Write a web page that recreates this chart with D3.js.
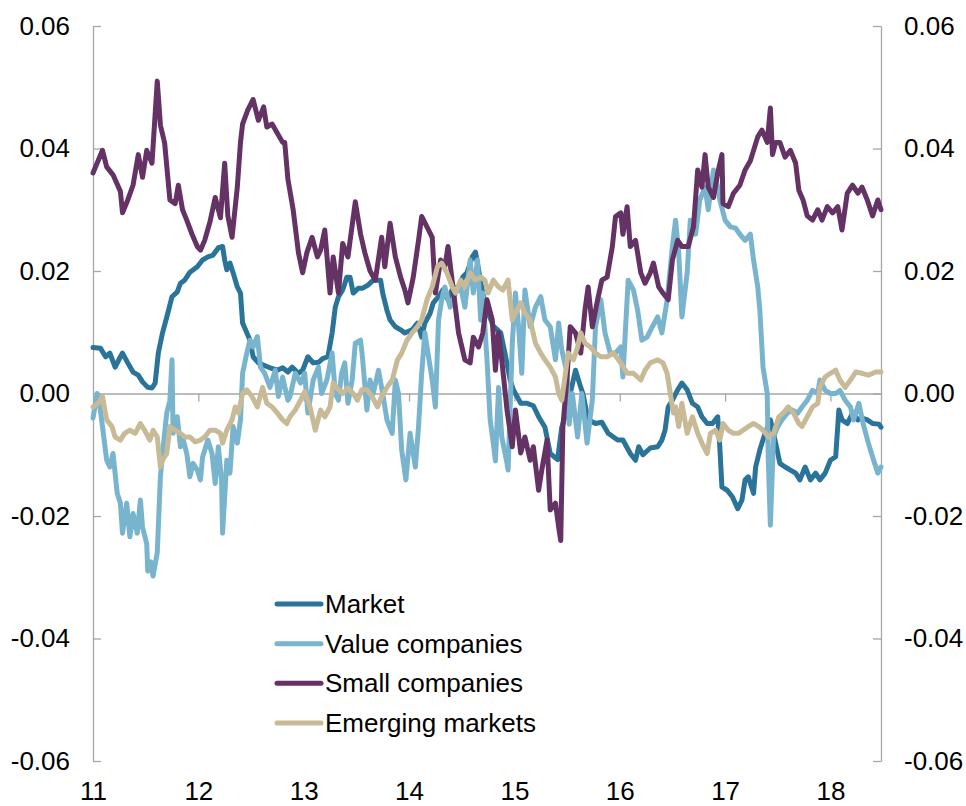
<!DOCTYPE html>
<html>
<head>
<meta charset="utf-8">
<script src="https://cdn.jsdelivr.net/npm/d3@7"></script>
<style>
  body { margin: 0; background: #fff; }
  text { font-family: "Liberation Sans", Arial, sans-serif; }
</style>
</head>
<body>
<svg id="chart" width="966" height="806"></svg>
<script>
// [year, value] readings, year as decimal (11 = 2011)
let market = [[11.00,.0075],[11.07,.0074],[11.12,.006],[11.16,.0066],[11.21,.0043],[11.26,.006],[11.28,.0066],[11.33,.005],[11.38,.0035],[11.43,.003],[11.47,.0019],[11.52,.001],[11.56,.0009],[11.59,.0017],[11.62,.0066],[11.66,.0099],[11.71,.0131],[11.75,.0158],[11.80,.0166],[11.83,.018],[11.87,.0185],[11.92,.0198],[11.99,.0207],[12.04,.0218],[12.09,.0223],[12.14,.0226],[12.19,.0238],[12.23,.024],[12.25,.0218],[12.27,.0202],[12.30,.0213],[12.33,.0197],[12.37,.0174],[12.40,.0164],[12.42,.0115],[12.46,.0099],[12.49,.0087],[12.52,.006],[12.57,.005],[12.61,.0047],[12.68,.0042],[12.75,.0038],[12.80,.0042],[12.85,.0035],[12.89,.0043],[12.95,.0033],[12.99,.0038],[13.04,.006],[13.09,.005],[13.14,.0051],[13.18,.0057],[13.23,.006],[13.27,.0099],[13.30,.0141],[13.33,.0158],[13.37,.0169],[13.41,.019],[13.44,.019],[13.47,.0164],[13.52,.0172],[13.56,.0172],[13.61,.0177],[13.66,.0185],[13.73,.0185],[13.75,.0164],[13.79,.0136],[13.82,.012],[13.87,.0109],[13.92,.0104],[13.96,.0099],[14.03,.0104],[14.08,.0115],[14.12,.0092],[14.15,.0115],[14.20,.0131],[14.23,.0148],[14.28,.0158],[14.32,.0169],[14.37,.0153],[14.42,.0174],[14.47,.0169],[14.51,.019],[14.55,.0197],[14.60,.0223],[14.63,.0231],[14.66,.0202],[14.70,.0164],[14.74,.0136],[14.80,.011],[14.87,.0099],[14.91,.0066],[14.96,.0022],[14.99,.0006],[15.06,-.0016],[15.12,-.0016],[15.18,-.002],[15.23,-.0038],[15.29,-.0055],[15.34,-.0098],[15.41,-.0108],[15.45,-.0055],[15.50,-.0027],[15.53,0],[15.58,.0038],[15.63,.001],[15.65,0],[15.70,-.0043],[15.77,-.0049],[15.83,-.0047],[15.89,-.0065],[15.98,-.0076],[16.03,-.0076],[16.10,-.0098],[16.15,-.0109],[16.18,-.0087],[16.22,-.01],[16.29,-.0089],[16.36,-.0087],[16.40,-.0076],[16.43,-.006],[16.46,-.0022],[16.50,-.0011],[16.55,.0006],[16.59,.0017],[16.64,.0006],[16.69,-.0016],[16.74,-.0022],[16.78,-.0038],[16.83,-.0049],[16.88,-.0049],[16.93,-.0038],[16.95,-.0087],[16.97,-.0153],[17.02,-.0158],[17.07,-.0169],[17.12,-.0188],[17.16,-.0174],[17.19,-.0141],[17.22,-.0136],[17.27,-.0163],[17.29,-.012],[17.33,-.0092],[17.38,-.0065],[17.43,-.0043],[17.48,-.0081],[17.52,-.0114],[17.57,-.012],[17.62,-.0125],[17.67,-.013],[17.71,-.0141],[17.76,-.012],[17.81,-.0141],[17.86,-.013],[17.90,-.0141],[17.95,-.013],[18.00,-.0109],[18.05,-.0103],[18.08,-.0027],[18.11,-.0043],[18.16,-.0049],[18.21,-.0032],[18.26,-.0043],[18.30,-.004],[18.35,-.0043],[18.40,-.0049],[18.46,-.005],[18.48,-.0055]];

let valueCos = [[11.00,-.004],[11.04,0],[11.07,-.0027],[11.09,-.0054],[11.13,-.0109],[11.16,-.012],[11.19,-.0098],[11.23,-.0163],[11.26,-.0179],[11.28,-.0228],[11.32,-.0179],[11.35,-.0234],[11.38,-.0196],[11.42,-.0228],[11.45,-.0174],[11.47,-.0218],[11.51,-.0245],[11.52,-.029],[11.55,-.0275],[11.57,-.0298],[11.61,-.026],[11.64,-.0136],[11.66,-.0098],[11.70,-.0032],[11.73,-.0011],[11.75,.0055],[11.76,-.0065],[11.80,-.0038],[11.83,-.0087],[11.85,-.0071],[11.89,-.0098],[11.92,-.0136],[11.95,-.0114],[11.99,-.0125],[12.02,-.0141],[12.04,-.0104],[12.09,-.0076],[12.13,-.0098],[12.16,-.0147],[12.19,-.0087],[12.22,-.0141],[12.23,-.0228],[12.27,-.0109],[12.30,-.013],[12.33,-.0054],[12.37,-.0081],[12.40,-.0043],[12.42,.0033],[12.46,.0066],[12.49,.0087],[12.52,.0076],[12.56,.0093],[12.59,.0043],[12.63,.0033],[12.68,.001],[12.73,.0038],[12.76,-.0005],[12.80,.0027],[12.85,-.0011],[12.87,-.0005],[12.92,.0033],[12.97,.0017],[13.01,.0033],[13.04,-.0032],[13.09,.0022],[13.14,.0043],[13.17,0],[13.22,.0022],[13.27,.0066],[13.30,0],[13.33,-.0011],[13.36,.0033],[13.39,.005],[13.42,-.0016],[13.46,.0022],[13.49,.0082],[13.54,.0087],[13.56,.0055],[13.60,-.0027],[13.63,.0022],[13.66,0],[13.71,.0038],[13.75,0],[13.79,-.0043],[13.84,-.0065],[13.87,.0022],[13.90,0],[13.93,-.0092],[13.97,-.0141],[14.01,-.0065],[14.06,-.012],[14.09,-.0054],[14.12,.0033],[14.15,.0099],[14.18,.0066],[14.22,.0022],[14.25,-.0022],[14.28,.012],[14.31,.0153],[14.34,.0174],[14.39,.0141],[14.44,.0164],[14.49,.0174],[14.53,.0141],[14.58,.0218],[14.61,.0164],[14.65,.0218],[14.68,.012],[14.70,.0164],[14.74,.0055],[14.77,-.0043],[14.80,-.0081],[14.82,-.011],[14.85,.001],[14.88,-.0071],[14.93,-.0114],[14.94,-.0125],[14.98,.0082],[15.01,.0164],[15.04,.0109],[15.07,.0033],[15.10,.0169],[15.15,.0109],[15.20,.0141],[15.25,.0158],[15.29,.012],[15.34,.0109],[15.39,.0055],[15.42,.0115],[15.45,.0071],[15.50,.0033],[15.52,-.005],[15.55,0],[15.60,-.0071],[15.64,0],[15.69,-.0081],[15.74,-.001],[15.77,.0109],[15.82,.0153],[15.86,.0099],[15.91,.0066],[15.96,.0066],[16.01,.0076],[16.03,.0027],[16.08,.0185],[16.13,.0169],[16.17,.0136],[16.21,.0087],[16.26,.0092],[16.31,.0109],[16.36,.0125],[16.40,.0099],[16.45,.0153],[16.50,.024],[16.53,.0283],[16.56,.023],[16.59,.0125],[16.64,.0197],[16.67,.0283],[16.72,.026],[16.76,.0316],[16.81,.0337],[16.84,.030],[16.89,.0365],[16.93,.0337],[16.95,.0316],[17.00,.0283],[17.05,.0272],[17.10,.027],[17.14,.026],[17.19,.025],[17.24,.026],[17.27,.0218],[17.31,.0174],[17.33,.0136],[17.36,.0043],[17.40,0],[17.41,-.0109],[17.43,-.0215],[17.46,-.0071],[17.50,-.0054],[17.54,-.0043],[17.59,-.0032],[17.64,-.0027],[17.69,-.0032],[17.73,-.0022],[17.78,-.0011],[17.83,.0005],[17.88,0],[17.90,.0022],[17.95,.0005],[18.00,0],[18.05,0],[18.09,.0005],[18.14,-.0011],[18.19,-.0022],[18.22,-.0043],[18.27,-.0016],[18.31,-.0049],[18.36,-.0081],[18.41,-.0109],[18.45,-.013],[18.48,-.012]];

let smallCos = [[11.00,.036],[11.09,.0397],[11.13,.037],[11.19,.0357],[11.26,.033],[11.28,.0295],[11.33,.0316],[11.38,.034],[11.43,.039],[11.47,.0353],[11.51,.0397],[11.56,.0376],[11.61,.051],[11.64,.0438],[11.68,.0409],[11.73,.0316],[11.78,.031],[11.81,.034],[11.85,.030],[11.89,.0283],[11.94,.026],[11.99,.024],[12.02,.0234],[12.06,.025],[12.11,.028],[12.16,.032],[12.21,.0287],[12.25,.0376],[12.28,.029],[12.32,.0255],[12.37,.0337],[12.40,.041],[12.42,.044],[12.47,.0463],[12.52,.048],[12.57,.0446],[12.62,.0468],[12.65,.0435],[12.70,.044],[12.75,.0425],[12.80,.041],[12.82,.041],[12.85,.035],[12.90,.030],[12.95,.023],[12.99,.0197],[13.03,.023],[13.08,.0255],[13.13,.0223],[13.16,.0234],[13.20,.0267],[13.25,.0164],[13.28,.0223],[13.33,.0164],[13.37,.0245],[13.42,.0223],[13.49,.0313],[13.54,.026],[13.58,.023],[13.63,.020],[13.68,.0185],[13.74,.0255],[13.77,.0207],[13.82,.0278],[13.87,.0223],[13.92,.019],[13.96,.0169],[13.99,.0148],[14.04,.019],[14.09,.025],[14.12,.0289],[14.17,.0272],[14.22,.0255],[14.25,.0164],[14.30,.0218],[14.34,.0207],[14.37,.024],[14.42,.0169],[14.47,.0099],[14.53,.0055],[14.58,.005],[14.61,.0092],[14.66,.0076],[14.70,.0099],[14.74,.0153],[14.79,.012],[14.82,.0038],[14.85,.0099],[14.88,.0055],[14.93,-.0027],[14.98,-.0087],[15.01,-.0027],[15.06,-.0097],[15.10,-.0071],[15.15,-.0109],[15.18,-.0087],[15.23,-.0158],[15.26,-.0125],[15.31,-.0076],[15.34,-.019],[15.39,-.0179],[15.42,-.0218],[15.44,-.024],[15.46,-.0055],[15.50,.0027],[15.53,.0109],[15.58,.0099],[15.63,.0066],[15.67,.0136],[15.70,.0174],[15.74,.0109],[15.79,.0153],[15.83,.0185],[15.88,.019],[15.93,.024],[15.96,.0289],[16.01,.0295],[16.03,.026],[16.07,.0305],[16.10,.024],[16.15,.025],[16.20,.0197],[16.24,.018],[16.29,.0197],[16.32,.0213],[16.37,.0174],[16.41,.0164],[16.46,.0153],[16.50,.0218],[16.55,.025],[16.59,.024],[16.65,.024],[16.70,.0272],[16.74,.0365],[16.78,.0337],[16.81,.039],[16.84,.0337],[16.89,.032],[16.93,.036],[16.97,.039],[16.98,.031],[17.03,.0305],[17.08,.0327],[17.14,.034],[17.19,.0365],[17.24,.038],[17.31,.0419],[17.35,.043],[17.40,.041],[17.43,.0466],[17.45,.039],[17.48,.041],[17.52,.041],[17.57,.0386],[17.62,.0397],[17.67,.0376],[17.70,.0332],[17.74,.0316],[17.78,.029],[17.83,.0283],[17.88,.030],[17.92,.0283],[17.97,.0305],[18.02,.0295],[18.07,.0305],[18.11,.0267],[18.16,.0327],[18.21,.034],[18.26,.0327],[18.30,.0337],[18.35,.0316],[18.40,.029],[18.45,.0316],[18.48,.030]];

let emerging = [[11.00,-.0022],[11.05,-.0016],[11.09,-.0005],[11.13,-.0043],[11.18,-.0054],[11.21,-.0071],[11.26,-.0076],[11.30,-.0065],[11.35,-.006],[11.40,-.0065],[11.45,-.0049],[11.49,-.006],[11.54,-.0076],[11.57,-.006],[11.61,-.0071],[11.64,-.012],[11.66,-.0109],[11.70,-.0098],[11.73,-.0054],[11.78,-.006],[11.83,-.0065],[11.87,-.0071],[11.92,-.0071],[11.97,-.0079],[12.02,-.0076],[12.06,-.0071],[12.11,-.006],[12.16,-.006],[12.21,-.0065],[12.23,-.0081],[12.27,-.006],[12.32,-.0043],[12.35,-.0022],[12.38,-.0032],[12.42,0],[12.46,.0006],[12.51,-.0005],[12.56,-.0022],[12.61,.001],[12.65,-.0016],[12.70,-.0022],[12.75,-.0032],[12.80,-.0043],[12.84,-.0049],[12.87,-.0038],[12.92,-.0027],[12.97,-.0011],[13.01,.0003],[13.06,-.0022],[13.11,-.006],[13.16,-.0027],[13.20,-.0038],[13.25,-.0022],[13.28,.0017],[13.33,.0006],[13.37,0],[13.42,.0009],[13.47,0],[13.51,-.0011],[13.55,.0006],[13.60,.0006],[13.65,-.0005],[13.70,-.0022],[13.74,-.0005],[13.79,.001],[13.84,.0022],[13.89,.0055],[13.93,.0066],[13.98,.0087],[14.03,.0099],[14.08,.0109],[14.12,.012],[14.17,.0153],[14.22,.0174],[14.27,.0207],[14.31,.0213],[14.36,.0197],[14.41,.0174],[14.44,.0164],[14.49,.0185],[14.53,.0174],[14.58,.0197],[14.63,.0185],[14.68,.019],[14.72,.0185],[14.75,.0164],[14.80,.0185],[14.85,.0174],[14.89,.0169],[14.94,.0185],[14.98,.012],[15.01,.0131],[15.06,.0148],[15.10,.0131],[15.15,.012],[15.20,.0082],[15.25,.0066],[15.29,.0055],[15.34,.0043],[15.39,.0027],[15.42,0],[15.45,-.0011],[15.48,.0027],[15.51,.0066],[15.56,.0055],[15.60,.0076],[15.63,.0099],[15.67,.0082],[15.72,.0076],[15.77,.0066],[15.82,.006],[15.88,.006],[15.94,.0066],[16.01,.005],[16.07,.0033],[16.13,.0033],[16.20,.0022],[16.24,.0038],[16.29,.005],[16.36,.0055],[16.41,.005],[16.45,.0033],[16.48,0],[16.51,-.0032],[16.53,-.0022],[16.56,-.0054],[16.59,-.0016],[16.64,-.0065],[16.69,-.0038],[16.74,-.0065],[16.78,-.0081],[16.83,-.0098],[16.86,-.0065],[16.91,-.006],[16.95,-.0076],[16.98,-.0049],[17.03,-.006],[17.08,-.0065],[17.13,-.0065],[17.17,-.006],[17.22,-.0054],[17.27,-.0049],[17.32,-.0054],[17.36,-.006],[17.41,-.0071],[17.46,-.0065],[17.51,-.0038],[17.55,-.0032],[17.60,-.0022],[17.65,-.0032],[17.70,-.0049],[17.73,-.0054],[17.78,-.0038],[17.83,-.0022],[17.88,-.0016],[17.90,.001],[17.95,.0027],[18.00,.0033],[18.05,.0038],[18.09,.0022],[18.14,.001],[18.19,.0022],[18.24,.0035],[18.30,.0033],[18.36,.003],[18.43,.0035],[18.48,.0035]];

let seriesNames = ["Market", "Value companies", "Small companies", "Emerging markets"];
let seriesColors = ["#2a7399", "#79b4ce", "#643264", "#c8ba96"];
let seriesData = [market, valueCos, smallCos, emerging];
let yTicks = [-0.06, -0.04, -0.02, 0, 0.02, 0.04, 0.06];
let yearTicks = [11, 12, 13, 14, 15, 16, 17, 18];

let svg = d3.select("#chart");
let plotLeft = 93, plotRight = 881, plotTop = 26, plotBottom = 761;
let axisGrey = "#a6a6a6";

let xScale = d3.scaleLinear().domain([11, 18.48]).range([plotLeft, plotRight]);
let yScale = d3.scaleLinear().domain([-0.06, 0.06]).range([plotBottom, plotTop]);

let fmt = (d) => d.toFixed(2);

// left and right value axes, ticks point into the plot
let leftAxis = svg.append("g")
    .attr("transform", `translate(${plotLeft},0)`)
    .call(d3.axisLeft(yScale).tickValues(yTicks).tickFormat(fmt)
        .tickSizeInner(-8).tickSizeOuter(0).tickPadding(23));
let rightAxis = svg.append("g")
    .attr("transform", `translate(${plotRight},0)`)
    .call(d3.axisRight(yScale).tickValues(yTicks).tickFormat(fmt)
        .tickSizeInner(-8).tickSizeOuter(0).tickPadding(23));

// zero line with year ticks
let zeroAxis = svg.append("g")
    .attr("transform", `translate(0,${yScale(0)})`)
    .call(d3.axisBottom(xScale).tickValues(yearTicks.slice(1)).tickFormat("")
        .tickSizeInner(8).tickSizeOuter(0));

// year labels under the plot
let yearAxis = svg.append("g")
    .attr("transform", "translate(0,782)")
    .call(d3.axisBottom(xScale).tickValues(yearTicks).tickFormat(d3.format("d"))
        .tickSize(0).tickPadding(0));
yearAxis.select(".domain").remove();

for (let g of [leftAxis, rightAxis, zeroAxis, yearAxis]) {
    g.selectAll(".domain, line").attr("stroke", axisGrey).attr("stroke-width", 1.3);
    g.selectAll("text")
        .attr("fill", "#000")
        .style("font-size", "26px")
        .style("font-family", "'Liberation Sans', Arial, sans-serif");
}

let line = d3.line()
    .x((d) => xScale(d[0]))
    .y((d) => yScale(d[1]));

svg.append("g").selectAll("path")
    .data(seriesData)
    .enter()
    .append("path")
    .attr("d", (d) => line(d))
    .attr("fill", "none")
    .attr("stroke", (d, i) => seriesColors[i])
    .attr("stroke-width", 5)
    .attr("stroke-linejoin", "round")
    .attr("stroke-linecap", "round");

// legend
let legendY = d3.scalePoint().domain(seriesNames).range([604, 723]);
let legend = svg.append("g").selectAll("g")
    .data(seriesNames)
    .enter()
    .append("g")
    .attr("transform", (d) => `translate(277,${legendY(d)})`);
legend.append("line")
    .attr("x1", 0).attr("x2", 44)
    .attr("stroke", (d, i) => seriesColors[i])
    .attr("stroke-width", 5)
    .attr("stroke-linecap", "round");
legend.append("text")
    .attr("x", 48)
    .attr("dy", "0.35em")
    .style("font-size", "26px")
    .text((d) => d);
</script>
</body>
</html>
